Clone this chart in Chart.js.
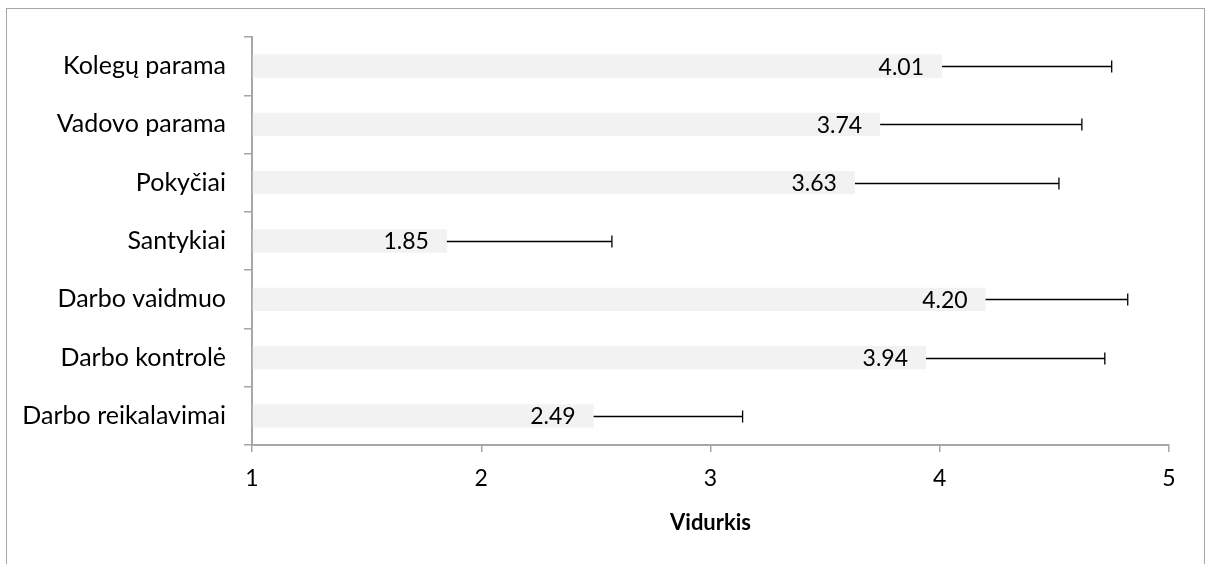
<!DOCTYPE html>
<html>
<head>
<meta charset="utf-8">
<script src="https://cdn.jsdelivr.net/npm/chart.js@4"></script>
<style>
  html, body { margin: 0; padding: 0; background: #fff; }
  #wrap { width: 1209px; height: 564px; position: relative; }
</style>
</head>
<body>
<div id="wrap"><canvas id="chart" width="1209" height="564"></canvas></div>
<script>
// chart data
const categories = ['Kolegų parama', 'Vadovo parama', 'Pokyčiai', 'Santykiai', 'Darbo vaidmuo', 'Darbo kontrolė', 'Darbo reikalavimai'];
const means = [4.01, 3.74, 3.63, 1.85, 4.20, 3.94, 2.49];
const errors = [0.74, 0.88, 0.89, 0.72, 0.62, 0.78, 0.65];
const xTicks = [1, 2, 3, 4, 5];

const FONT = 'Lato, "Open Sans", sans-serif';
const AXIS_GREY = '#a6a6a6';

// outer frame around the chart
const framePlugin = {
    id: 'frame',
    beforeDraw(chart) {
        const ctx = chart.ctx;
        ctx.save();
        ctx.strokeStyle = '#a6a6a6';
        ctx.lineWidth = 1;
        ctx.strokeRect(6.5, 8.5, 1198, 600);
        ctx.restore();
    }
};

// upper error bars + value labels inside the bar end
const barExtras = {
    id: 'barExtras',
    afterDatasetsDraw(chart) {
        const ctx = chart.ctx;
        const xs = chart.scales.x;
        const meta = chart.getDatasetMeta(0);
        ctx.save();
        meta.data.forEach((bar, i) => {
            const x0 = xs.getPixelForValue(means[i]);
            const x1 = xs.getPixelForValue(means[i] + errors[i]);
            const y = Math.round(bar.y) + 0.5;
            ctx.strokeStyle = '#000';
            ctx.lineWidth = 1.3;
            ctx.beginPath();
            ctx.moveTo(x0, y);
            ctx.lineTo(x1, y);
            ctx.moveTo(x1, y - 6);
            ctx.lineTo(x1, y + 6);
            ctx.stroke();

            ctx.fillStyle = '#000';
            ctx.font = '23px ' + FONT;
            ctx.textAlign = 'right';
            ctx.textBaseline = 'middle';
            ctx.fillText(means[i].toFixed(2), x0 - 18, bar.y + 1);
        });
        ctx.restore();
    }
};

new Chart(document.getElementById('chart'), {
    type: 'bar',
    data: {
        labels: categories,
        datasets: [{
            data: means,
            base: 1,
            backgroundColor: '#f2f2f2',
            borderWidth: 0,
            barPercentage: 0.4,
            categoryPercentage: 1.0
        }]
    },
    options: {
        indexAxis: 'y',
        responsive: false,
        animation: false,
        layout: { padding: { top: 37, right: 40, left: 0, bottom: 0 } },
        plugins: {
            legend: { display: false },
            tooltip: { enabled: false }
        },
        scales: {
            x: {
                type: 'linear',
                min: 1,
                max: 5,
                afterBuildTicks(scale) {
                    scale.ticks = xTicks.map(v => ({ value: v }));
                },
                afterFit(scale) { scale.height = 119; },
                grid: {
                    drawOnChartArea: false,
                    drawTicks: true,
                    tickLength: 7,
                    color: AXIS_GREY,
                    lineWidth: 1.5
                },
                border: { color: AXIS_GREY, width: 2 },
                ticks: {
                    color: '#000',
                    padding: 13,
                    font: { family: FONT, size: 23 }
                },
                title: {
                    display: true,
                    text: 'Vidurkis',
                    color: '#000',
                    padding: { top: 8, bottom: 28 },
                    font: { family: FONT, size: 22, weight: 'bold' }
                }
            },
            y: {
                afterFit(scale) { scale.width = 252; },
                grid: {
                    offset: true,
                    drawOnChartArea: false,
                    drawTicks: true,
                    tickLength: 8,
                    color: AXIS_GREY,
                    lineWidth: 1.5
                },
                border: { color: AXIS_GREY, width: 2 },
                ticks: {
                    color: '#000',
                    padding: 18,
                    font: { family: FONT, size: 25 }
                }
            }
        }
    },
    plugins: [framePlugin, barExtras]
});
</script>
</body>
</html>
